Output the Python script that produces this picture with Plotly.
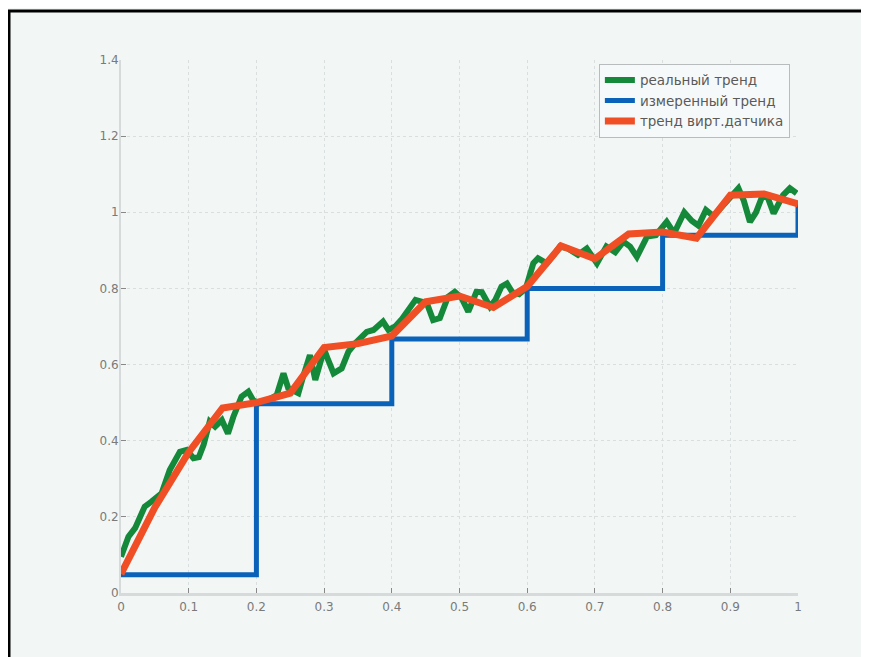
import plotly.graph_objects as go

# Real trend (noisy)
real_x = [0.000, 0.011, 0.021, 0.035, 0.045, 0.060, 0.072, 0.087, 0.097, 0.107, 0.115, 0.122,
          0.131, 0.139, 0.149, 0.158, 0.166, 0.178, 0.188, 0.195, 0.203, 0.215, 0.230, 0.240,
          0.247, 0.262, 0.269, 0.279, 0.287, 0.294, 0.300, 0.306, 0.314, 0.326, 0.336, 0.346,
          0.363, 0.373, 0.387, 0.395, 0.405, 0.415, 0.425, 0.435, 0.445, 0.452, 0.461, 0.471,
          0.483, 0.493, 0.503, 0.513, 0.525, 0.533, 0.545, 0.553, 0.562, 0.570, 0.578, 0.588,
          0.598, 0.609, 0.616, 0.629, 0.640, 0.648, 0.660, 0.675, 0.688, 0.703, 0.717, 0.730,
          0.742, 0.752, 0.762, 0.777, 0.790, 0.806, 0.817, 0.832, 0.843, 0.853, 0.864, 0.875,
          0.888, 0.900, 0.912, 0.920, 0.929, 0.938, 0.947, 0.955, 0.964, 0.978, 0.988, 0.998]
real_y = [0.095, 0.148, 0.171, 0.227, 0.240, 0.262, 0.323, 0.371, 0.376, 0.354, 0.357, 0.389,
          0.450, 0.437, 0.454, 0.419, 0.463, 0.516, 0.529, 0.507, 0.498, 0.505, 0.520, 0.577,
          0.538, 0.525, 0.568, 0.625, 0.560, 0.612, 0.640, 0.612, 0.577, 0.590, 0.634, 0.656,
          0.686, 0.691, 0.713, 0.691, 0.700, 0.720, 0.745, 0.770, 0.765, 0.760, 0.717, 0.722,
          0.778, 0.791, 0.775, 0.739, 0.791, 0.790, 0.752, 0.770, 0.805, 0.813, 0.790, 0.785,
          0.800, 0.866, 0.879, 0.866, 0.890, 0.910, 0.905, 0.888, 0.905, 0.866, 0.910, 0.895,
          0.923, 0.910, 0.883, 0.936, 0.940, 0.975, 0.945, 1.000, 0.978, 0.965, 1.006, 0.990,
          1.015, 1.041, 1.063, 1.030, 0.975, 1.000, 1.041, 1.040, 0.997, 1.045, 1.063, 1.050]

# Measured trend (sampled every 0.2, step)
meas_x = [0.0, 0.2, 0.4, 0.6, 0.8, 1.0]
meas_y = [0.048, 0.497, 0.667, 0.800, 0.940, 1.022]

# Virtual sensor trend
virt_x = [0.00, 0.05, 0.10, 0.15, 0.20, 0.25, 0.30, 0.35, 0.40, 0.45, 0.50,
          0.55, 0.60, 0.65, 0.70, 0.75, 0.80, 0.85, 0.90, 0.95, 1.00]
virt_y = [0.050, 0.225, 0.370, 0.486, 0.500, 0.525, 0.645, 0.655, 0.675, 0.765, 0.780,
          0.750, 0.805, 0.912, 0.878, 0.943, 0.948, 0.932, 1.045, 1.048, 1.022]

names = ["реальный тренд", "измеренный тренд", "тренд вирт.датчика"]
x_ticks = [0, 0.1, 0.2, 0.3, 0.4, 0.5, 0.6, 0.7, 0.8, 0.9, 1]
x_labels = ["0", "0.1", "0.2", "0.3", "0.4", "0.5", "0.6", "0.7", "0.8", "0.9", "1"]
y_ticks = [0, 0.2, 0.4, 0.6, 0.8, 1.0, 1.2, 1.4]
y_labels = ["0", "0.2", "0.4", "0.6", "0.8", "1", "1.2", "1.4"]

BG = "#f2f7f6"
FONT = "DejaVu Sans, Verdana, sans-serif"
fig = go.Figure()
fig.add_trace(go.Scatter(x=real_x, y=real_y, mode="lines", name=names[0],
                         line=dict(color="#14893a", width=6)))
fig.add_trace(go.Scatter(x=meas_x, y=meas_y, mode="lines", name=names[1],
                         line=dict(color="#0b63b9", width=5, shape="hv")))
fig.add_trace(go.Scatter(x=virt_x, y=virt_y, mode="lines", name=names[2],
                         line=dict(color="#f04e24", width=7)))

axis_common = dict(showgrid=True, gridcolor="#d9dfdf", griddash="dot", gridwidth=1,
                   zeroline=False, showline=True, linecolor="#d6dada",
                   ticks="inside", ticklen=5, tickcolor="#888888",
                   tickfont=dict(family=FONT, size=12, color="#7a7a7a"))

fig.update_xaxes(range=[0, 1], tickvals=x_ticks, ticktext=x_labels, linewidth=3,
                 ticklabelstandoff=1, **axis_common)
fig.update_yaxes(range=[0, 1.4], tickvals=y_ticks, ticktext=y_labels, linewidth=2,
                 ticklabelstandoff=-2, **axis_common)

# page body adds an 8px offset; figure coordinates below are page coords minus 8
L, R, T, B = 113, 790, 52, 585
fig.update_layout(
    width=869, height=657,
    margin=dict(l=L, r=869 - R, t=T, b=657 - B),
    paper_bgcolor=BG, plot_bgcolor=BG,
    showlegend=True,
    legend=dict(x=0.988, y=0.993, xanchor="right", yanchor="top",
                bgcolor="#f6f9f9", bordercolor="#b8bcbc", borderwidth=1,
                font=dict(family=FONT, size=13.5, color="#5a5a5a"),
                tracegroupgap=0),
    shapes=[dict(type="rect", xref="paper", yref="paper",
                 x0=(1 - L) / (R - L), x1=(861 - L) / (R - L),
                 y0=(B - 700) / (B - T), y1=(B - 3) / (B - T),
                 line=dict(color="black", width=3), fillcolor="rgba(0,0,0,0)",
                 layer="above")],
)

fig.write_html("out.html")
